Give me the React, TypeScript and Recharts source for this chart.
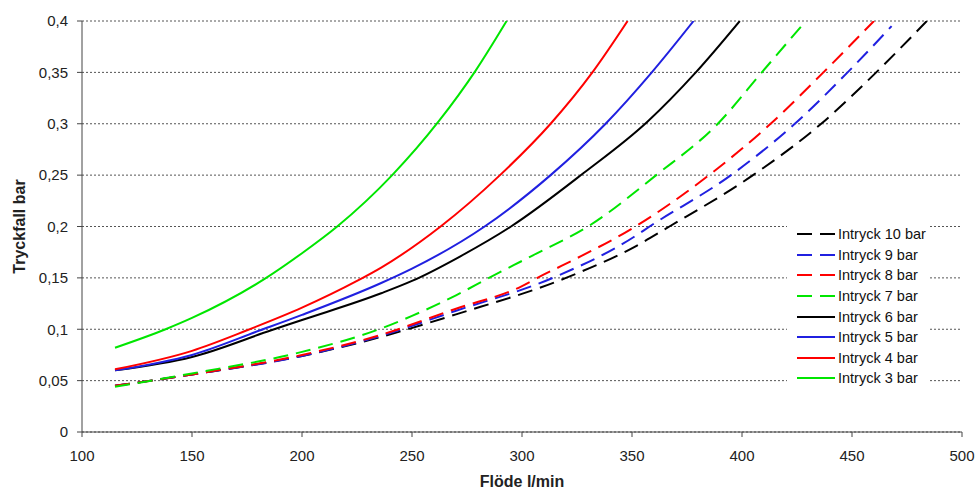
import React from 'react'
import { LineChart, Line, XAxis, YAxis, CartesianGrid } from 'recharts'

// Flöde (l/min) and tryckfall (bar) per inlet pressure
const flow3 = [115, 138, 150, 183, 200, 216, 241, 262, 279, 293]
const drop3 = [0.082, 0.1, 0.111, 0.149, 0.174, 0.2, 0.25, 0.302, 0.352, 0.4]

const flow4 = [115, 150, 175, 200, 225, 236, 263, 290, 313, 332, 348]
const drop4 = [0.061, 0.079, 0.099, 0.121, 0.147, 0.16, 0.2, 0.25, 0.3, 0.35, 0.4]

const flow5 = [115, 150, 181, 200, 236, 250, 283, 313, 338, 359, 378]
const drop5 = [0.06, 0.075, 0.099, 0.114, 0.145, 0.159, 0.2, 0.25, 0.3, 0.35, 0.4]

const flow6 = [115, 150, 186, 200, 236, 250, 272, 295, 328, 357, 379, 399]
const drop6 = [0.06, 0.073, 0.099, 0.109, 0.135, 0.147, 0.171, 0.2, 0.252, 0.302, 0.35, 0.4]

const flow7 = [115, 150, 200, 235, 250, 270, 285, 305, 330, 361, 389, 409, 429]
const drop7 = [0.044, 0.057, 0.078, 0.1, 0.113, 0.133, 0.15, 0.172, 0.2, 0.25, 0.3, 0.35, 0.4]

const flow8 = [115, 150, 200, 235, 270, 300, 307, 323, 350, 385, 413, 437, 460]
const drop8 = [0.045, 0.056, 0.075, 0.094, 0.12, 0.142, 0.15, 0.167, 0.198, 0.25, 0.3, 0.35, 0.4]

const flow9 = [115, 150, 200, 235, 270, 314, 351, 358, 395, 424, 448, 468]
const drop9 = [0.045, 0.056, 0.074, 0.093, 0.118, 0.15, 0.19, 0.2, 0.25, 0.3, 0.35, 0.395]

const flow10 = [115, 150, 200, 235, 270, 320, 351, 367, 405, 436, 461, 484]
const drop10 = [0.045, 0.056, 0.074, 0.092, 0.1145, 0.15, 0.18, 0.2, 0.25, 0.3, 0.35, 0.4]

const xTicks = [100, 150, 200, 250, 300, 350, 400, 450, 500]
const yTicks = [0, 0.05, 0.1, 0.15, 0.2, 0.25, 0.3, 0.35, 0.4]

const zip = (xs: number[], ys: number[]) => xs.map((x, i) => ({ x, y: ys[i] }))

const GREEN = '#00e600'
const RED = '#ff0000'
const BLUE = '#2020e0'
const BLACK = '#000000'
const DASH = '15 8'

// legend order as in the picture (10 bar first)
const series = [
  { name: 'Intryck 10 bar', data: zip(flow10, drop10), color: BLACK, dashed: true },
  { name: 'Intryck 9 bar', data: zip(flow9, drop9), color: BLUE, dashed: true },
  { name: 'Intryck 8 bar', data: zip(flow8, drop8), color: RED, dashed: true },
  { name: 'Intryck 7 bar', data: zip(flow7, drop7), color: GREEN, dashed: true },
  { name: 'Intryck 6 bar', data: zip(flow6, drop6), color: BLACK, dashed: false },
  { name: 'Intryck 5 bar', data: zip(flow5, drop5), color: BLUE, dashed: false },
  { name: 'Intryck 4 bar', data: zip(flow4, drop4), color: RED, dashed: false },
  { name: 'Intryck 3 bar', data: zip(flow3, drop3), color: GREEN, dashed: false },
]

const FONT = '"Liberation Sans", Arial, sans-serif'
const fmt = (v: number) => String(v).replace('.', ',')

export default function App() {
  return (
    <div style={{ position: 'absolute', left: 0, top: 0, width: 976, height: 489, background: '#fff', fontFamily: FONT }}>
      <LineChart width={976} height={489} margin={{ top: 21, right: 14, left: 0, bottom: 0 }}>
        <CartesianGrid vertical={false} stroke="#555" strokeDasharray="2 2" />
        <XAxis
          type="number"
          dataKey="x"
          domain={[100, 500]}
          ticks={xTicks}
          allowDataOverflow
          height={57}
          stroke="#444"
          tickSize={5}
          tickMargin={13}
          tick={{ fill: '#222', fontSize: 15, fontFamily: FONT }}
          label={{ value: 'Flöde l/min', position: 'insideBottom', offset: 2, fill: '#222', fontSize: 16, fontWeight: 700, fontFamily: FONT }}
        />
        <YAxis
          type="number"
          domain={[0, 0.4]}
          ticks={yTicks}
          allowDataOverflow
          width={82}
          stroke="#444"
          tickSize={5}
          tickMargin={9}
          tickFormatter={fmt}
          tick={{ fill: '#222', fontSize: 15, fontFamily: FONT }}
          label={{ value: 'Tryckfall bar', angle: -90, position: 'insideLeft', offset: 19, fill: '#222', fontSize: 16, fontWeight: 700, fontFamily: FONT, style: { textAnchor: 'middle' } }}
        />
        {series.map(s => (
          <Line
            key={s.name}
            data={s.data}
            dataKey="y"
            type="monotone"
            stroke={s.color}
            strokeWidth={2}
            strokeDasharray={s.dashed ? DASH : undefined}
            dot={false}
            activeDot={false}
            isAnimationActive={false}
          />
        ))}
      </LineChart>
      <div style={{ position: 'absolute', left: 787, top: 222, width: 143, height: 168, background: '#fff', paddingTop: 2 }}>
        {series.map(s => (
          <div key={s.name} style={{ display: 'flex', alignItems: 'center', height: 20.6, fontSize: 14.5, color: '#111' }}>
            <svg width={48} height={6} style={{ flex: 'none' }}>
              <line x1={10} y1={3} x2={48} y2={3} stroke={s.color} strokeWidth={2} strokeDasharray={s.dashed ? DASH : undefined} />
            </svg>
            <span style={{ marginLeft: 3, whiteSpace: 'nowrap' }}>{s.name}</span>
          </div>
        ))}
      </div>
    </div>
  )
}
